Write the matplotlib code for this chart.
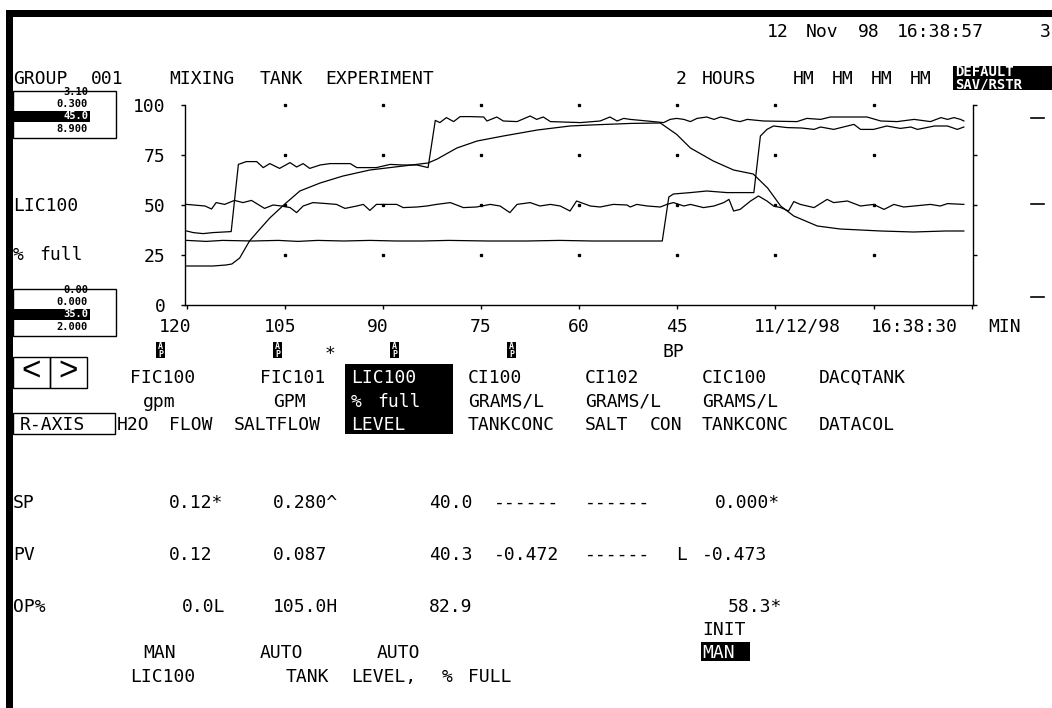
import matplotlib
matplotlib.use("Agg")
import matplotlib.pyplot as plt
from matplotlib.patches import Rectangle
from matplotlib.transforms import ScaledTranslation

W, H = 1052, 708
MONO = "DejaVu Sans Mono"
COL0, PITCH = 13, 13   # console character grid, px

plt.rcParams["font.family"] = MONO

# trend pens: (minutes before 16:38:30, % of chart scale)
trend_level = [
    (120.0, 50.3), (117.2, 49.5), (116.2, 48.0), (115.5, 51.2), (114.2, 50.3),
    (112.7, 52.3), (111.4, 51.2), (110.1, 52.3), (109.1, 50.3), (108.1, 48.3),
    (106.8, 50.0), (105.5, 49.5), (104.2, 48.7), (103.2, 46.2), (102.2, 49.5),
    (100.7, 51.2), (98.6, 50.7), (97.1, 50.3), (95.8, 48.3), (94.0, 49.5),
    (93.0, 50.3), (92.0, 47.3), (91.0, 50.3), (89.4, 50.3), (87.9, 50.3),
    (86.9, 48.7), (84.8, 49.0), (83.3, 49.5), (81.8, 50.3), (79.7, 51.2),
    (77.7, 48.7), (75.7, 49.0), (73.6, 50.3), (72.1, 49.5), (70.6, 46.2),
    (69.5, 50.3), (67.5, 51.2), (66.0, 49.5), (64.4, 50.3), (62.9, 49.5),
    (61.4, 47.0), (60.4, 52.0), (58.3, 49.5), (56.8, 49.0), (54.8, 50.3),
    (52.7, 50.0), (52.2, 49.0), (51.2, 50.3), (49.6, 49.5), (47.6, 49.0),
    (46.6, 50.3), (45.6, 51.2), (44.0, 49.5), (43.0, 50.3), (41.0, 48.7),
    (39.4, 49.5), (37.9, 51.2), (37.1, 52.8), (36.4, 47.0), (35.4, 47.8),
    (33.8, 52.0), (32.6, 54.5), (31.3, 52.0), (30.3, 49.5), (29.2, 48.7),
    (28.0, 47.0), (27.2, 51.7), (26.2, 50.3), (24.1, 48.7), (22.1, 52.8),
    (21.1, 51.2), (19.0, 52.0), (17.0, 49.5), (15.0, 50.3), (13.4, 47.8),
    (11.9, 50.3), (10.4, 49.0), (8.8, 49.5), (6.3, 50.3), (4.8, 49.5),
    (3.7, 50.7), (1.2, 50.3),
]

trend_conc = [
    (120.0, 19.5), (116.0, 19.5), (114.0, 20.0), (113.1, 20.5), (111.9, 23.5),
    (110.4, 32.0), (108.8, 38.0), (107.3, 43.5), (105.0, 50.5), (102.7, 57.0),
    (99.6, 61.0), (96.1, 64.5), (92.0, 67.5), (86.9, 69.5), (83.1, 71.0),
    (81.7, 73.0), (78.7, 78.5), (75.6, 82.0), (71.6, 84.5), (66.4, 87.5),
    (61.4, 89.5), (58.3, 90.0), (52.0, 90.8), (47.6, 91.0), (45.1, 85.3),
    (43.0, 78.5), (39.5, 72.0), (36.4, 67.5), (33.4, 65.5), (31.2, 58.5),
    (29.2, 49.5), (27.2, 44.5), (23.6, 39.5), (20.1, 38.0), (13.9, 37.0),
    (8.9, 36.5), (4.0, 37.0), (1.2, 37.0),
]

trend_flow1 = [
    (120.0, 37.0), (119.0, 36.2), (117.5, 35.7), (116.0, 36.2), (113.2, 36.7),
    (112.1, 70.3), (110.9, 71.7), (109.3, 71.7), (108.3, 68.7), (107.3, 70.7),
    (105.8, 68.3), (104.2, 71.2), (103.2, 69.0), (102.2, 70.7), (101.2, 68.3),
    (99.6, 70.0), (98.1, 70.7), (95.0, 70.7), (94.0, 68.7), (91.0, 68.7),
    (88.9, 70.3), (86.9, 70.0), (84.8, 70.0), (83.1, 68.7), (82.0, 92.3),
    (81.3, 91.2), (80.3, 93.7), (79.2, 91.7), (78.2, 94.2), (76.7, 94.2),
    (74.6, 94.0), (74.1, 92.0), (72.6, 94.0), (71.6, 92.0), (69.5, 91.7),
    (67.5, 94.5), (66.5, 92.8), (65.5, 94.0), (64.4, 91.7), (59.8, 91.2),
    (56.8, 92.0), (55.3, 94.0), (54.2, 92.0), (53.2, 93.3), (52.2, 92.8),
    (49.6, 92.0), (47.1, 91.2), (46.1, 92.8), (45.1, 93.3), (44.0, 92.8),
    (43.0, 91.7), (42.0, 93.3), (40.5, 94.0), (39.4, 92.8), (38.4, 94.0),
    (37.4, 93.3), (36.4, 92.3), (35.4, 91.7), (34.3, 92.8), (31.8, 92.0),
    (26.7, 91.7), (25.2, 93.3), (23.1, 92.8), (21.6, 94.0), (16.0, 94.0),
    (13.9, 92.0), (11.4, 91.7), (8.8, 92.8), (6.3, 91.7), (4.7, 93.7),
    (3.7, 92.8), (2.7, 93.7), (1.7, 92.8), (1.2, 92.0),
]

trend_flow2 = [
    (120.0, 32.3), (117.0, 31.8), (114.5, 32.3), (110.0, 32.0), (106.0, 32.3),
    (103.0, 31.8), (100.0, 32.3), (96.0, 32.0), (92.0, 32.3), (88.0, 32.0),
    (84.0, 32.0), (80.0, 32.3), (74.0, 32.0), (68.0, 32.0), (63.0, 32.3),
    (58.0, 32.0), (52.0, 32.0), (47.3, 32.0), (46.3, 54.0), (45.6, 55.5),
    (43.0, 56.2), (40.5, 57.0), (37.4, 56.2), (33.3, 56.2), (32.3, 84.5),
    (31.3, 87.8), (30.3, 89.5), (28.2, 88.7), (26.0, 88.5), (24.1, 87.8),
    (23.1, 89.0), (21.1, 87.8), (19.0, 89.5), (18.0, 90.3), (17.0, 87.8),
    (15.0, 87.8), (13.0, 89.5), (10.9, 88.3), (9.3, 89.0), (8.3, 87.8),
    (5.7, 89.5), (3.7, 89.5), (2.2, 87.8), (1.2, 89.0),
]

x_ticks = [120, 105, 90, 75, 60, 45, 30, 15, 0]
x_labels = ["120", "105", "90", "75", "60", "45", "", "", ""]
y_ticks = [0, 25, 50, 75, 100]
dot_x = [105, 90, 75, 60, 45, 30, 15]
dot_y = [25, 50, 75, 100]

fig = plt.figure(figsize=(W / 100, H / 100), dpi=100)
fig.patch.set_facecolor("white")

# screen layer in pixels, y pointing down
scr = fig.add_axes([0, 0, 1, 1])
scr.set_xlim(0, W)
scr.set_ylim(H, 0)
scr.axis("off")


def put(col, y, s, size=13, color="black", x=None):
    # write s on the character grid, each word at its own column
    x0 = COL0 + col * PITCH if x is None else x
    base = y + 0.365 * size * 100 / 72
    pos = 0
    for word in s.split(" "):
        if word:
            scr.text(x0 + pos * PITCH, base, word, fontsize=size,
                     color=color, ha="left", va="baseline", family=MONO)
        pos += len(word) + 1


def box(x, y, w, h, filled=False, lw=1.0):
    scr.add_patch(Rectangle((x, y), w, h, facecolor="black" if filled else "none",
                            edgecolor="black", lw=lw))


# frame bars
box(6, 10, W, 7, filled=True, lw=0)
box(6, 10, 7, H, filled=True, lw=0)

# title lines
put(58, 30, "12 Nov 98 16:38:57")
put(79, 30, "3")
put(0, 77, "GROUP 001   MIXING TANK EXPERIMENT")
put(51, 77, "2 HOURS  HM HM HM HM")
box(953, 66, 99, 24, filled=True, lw=0)
scr.text(955, 76, "DEFAULT", fontsize=10, color="white", family=MONO, weight="bold")
scr.text(955, 88, "SAV/RSTR", fontsize=10, color="white", family=MONO, weight="bold")

# scale boxes at left of the trend
SMALL = 7.5
for top, vals in [(91, ["3.10", "0.300", "45.0", "8.900"]),
                  (289, ["0.00", "0.000", "35.0", "2.000"])]:
    box(13, top, 103, 47)
    clip = Rectangle((13, top), 103, 47, transform=scr.transData)
    t = scr.text(88, top + 1, vals[0], fontsize=SMALL, ha="right", va="center",
                 family=MONO, weight="bold")
    t.set_clip_path(clip)
    scr.text(88, top + 13, vals[1], fontsize=SMALL, ha="right", va="center",
             family=MONO, weight="bold")
    box(13, top + 19.5, 77, 11, filled=True, lw=0)
    scr.text(88, top + 25, vals[2], fontsize=SMALL, ha="right", va="center",
             family=MONO, color="white", weight="bold")
    scr.text(88, top + 37.5, vals[3], fontsize=SMALL, ha="right", va="center",
             family=MONO, weight="bold")

put(0, 204, "LIC100")
put(0, 253, "% full")
for yy in [118, 204, 297]:
    scr.plot([1031, 1044], [yy, yy], color="black", lw=1.2)

# trend
ax = fig.add_axes([185 / W, 1 - 305 / H, (973.3 - 185) / W, 200 / H])
ax.set_facecolor("none")
for pen in [trend_level, trend_conc, trend_flow1, trend_flow2]:
    t, v = zip(*pen)
    ax.plot(t, v, color="black", lw=0.9)
gx = [x for x in dot_x for _ in dot_y]
gy = [y for _ in dot_x for y in dot_y]
ax.plot(gx, gy, ls="none", marker="s", ms=1.4, color="black", clip_on=False)
ax.set_xlim(120.26, -0.245)
ax.set_ylim(0, 100)
ax.set_xticks(x_ticks)
ax.set_xticklabels(x_labels)
ax.set_yticks(y_ticks)
ax.spines["top"].set_visible(False)
for s in ["left", "right", "bottom"]:
    ax.spines[s].set_linewidth(1.0)
ax.tick_params(direction="out", length=3, width=1.0, labelsize=13, colors="black")
ax.tick_params(axis="y", right=True, pad=11)
ax.tick_params(axis="x", pad=6)
# the console snaps time labels to its character cells
for lab, dx in zip(ax.get_xticklabels(), [-12, -5, -5, 0, 0, 0]):
    lab.set_transform(lab.get_transform() + ScaledTranslation(dx / 100, 0, fig.dpi_scale_trans))

put(57, 325, "11/12/98 16:38:30 MIN")

# pen markers under the time axis
for c in [11, 20, 29, 38]:
    x = COL0 + c * PITCH
    box(x, 342, 9, 16, filled=True, lw=0)
    scr.text(x + 4.5, 346.5, "A", fontsize=6, color="white", ha="center", va="center",
             family=MONO, weight="bold")
    scr.text(x + 4.5, 354.5, "P", fontsize=6, color="white", ha="center", va="center",
             family=MONO, weight="bold")
put(24, 352, "*")
put(50, 350, "BP")

# paging and axis buttons
box(13, 357, 37, 31)
box(50, 357, 37, 31)
scr.text(31.5, 372, "<", fontsize=24, family="Liberation Sans", ha="center", va="center")
scr.text(68.5, 372, ">", fontsize=24, family="Liberation Sans", ha="center", va="center")
box(13, 413, 102, 21)
put(0, 423, "R-AXIS", x=20)

# point headers
box(345, 364, 108, 70, filled=True, lw=0)
put(9, 376, "FIC100")
put(19, 376, "FIC101")
put(26, 376, "LIC100", color="white")
put(35, 376, "CI100")
put(44, 376, "CI102")
put(53, 376, "CIC100")
put(62, 376, "DACQTANK")
put(10, 400, "gpm")
put(20, 400, "GPM")
put(26, 400, "% full", color="white")
put(35, 400, "GRAMS/L")
put(44, 400, "GRAMS/L")
put(53, 400, "GRAMS/L")
put(8, 423, "H2O FLOW")
put(17, 423, "SALTFLOW")
put(26, 423, "LEVEL", color="white")
put(35, 423, "TANKCONC")
put(44, 423, "SALT CON")
put(53, 423, "TANKCONC")
put(62, 423, "DATACOL")

# values
put(0, 501, "SP")
put(12, 501, "0.12*")
put(20, 501, "0.280^")
put(32, 501, "40.0")
put(37, 501, "------")
put(44, 501, "------")
put(54, 501, "0.000*")
put(0, 553, "PV")
put(12, 553, "0.12")
put(20, 553, "0.087")
put(32, 553, "40.3")
put(37, 553, "-0.472")
put(44, 553, "------ L")
put(53, 553, "-0.473")
put(0, 605, "OP%")
put(13, 605, "0.0L")
put(20, 605, "105.0H")
put(32, 605, "82.9")
put(55, 605, "58.3*")
put(53, 628, "INIT")
box(COL0 + 53 * PITCH - 1, 642, 49, 19, filled=True, lw=0)
put(53, 651, "MAN", color="white")
put(10, 651, "MAN")
put(19, 651, "AUTO")
put(28, 651, "AUTO")
put(9, 675, "LIC100")
put(21, 675, "TANK LEVEL, % FULL")

fig.savefig("out.png", dpi=100)
